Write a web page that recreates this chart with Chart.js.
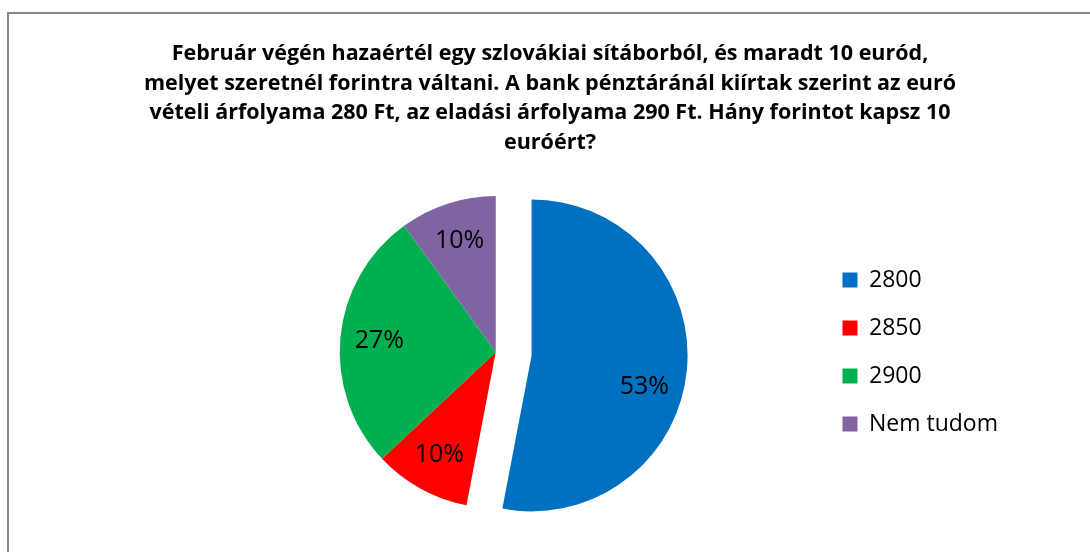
<!DOCTYPE html>
<html lang="hu">
<head>
<meta charset="utf-8">
<title>Hány forintot kapsz 10 euróért?</title>
<script src="https://cdn.jsdelivr.net/npm/chart.js@4.4.1/dist/chart.umd.min.js"></script>
<style>
    html, body {
        margin: 0;
        padding: 0;
        background: #ffffff;
        width: 1090px;
        height: 552px;
        overflow: hidden;
    }
    #frame {
        position: absolute;
        left: 7px;
        top: 12px;
        width: 1200px;
        height: 700px;
        border-left: 2px solid #898989;
        border-top: 2px solid #898989;
        pointer-events: none;
    }
    #chart-title {
        position: absolute;
        left: 0;
        top: 37px;
        width: 1100px;
        text-align: center;
        font-family: "Open Sans", sans-serif;
        font-weight: bold;
        font-size: 21.5px;
        line-height: 29.5px;
        color: #000000;
    }
    #pie {
        position: absolute;
        left: 0;
        top: 0;
    }
</style>
</head>
<body>
<div id="frame"></div>
<canvas id="pie" width="1090" height="552"></canvas>
<div id="chart-title">
    Február végén hazaértél egy szlovákiai sítáborból, és maradt 10 euród,<br>
    melyet szeretnél forintra váltani. A bank pénztáránál kiírtak szerint az euró<br>
    vételi árfolyama 280 Ft, az eladási árfolyama 290 Ft. Hány forintot kapsz 10<br>
    euróért?
</div>
<script>
    'use strict';

    // answers and their share of the votes (%)
    const categories = ['2800', '2850', '2900', 'Nem tudom'];
    const shares = [53, 10, 27, 10];

    const sliceColors = ['#0070C0', '#FF0000', '#00B050', '#8064A2'];
    // the correct answer is pulled out of the pie (px)
    const explodeBy = [36, 0, 0, 0];
    // small angular nudge (degrees) for the percentage labels
    const labelNudge = [10, 0, 0, 0];

    const FONT = '"Open Sans", sans-serif';

    const midAngle = (arc) => {
        const p = arc.getProps(['startAngle', 'endAngle']);
        return (p.startAngle + p.endAngle) / 2;
    };

    // draws every slice itself so a slice can be moved out without growing
    const explodedSlices = {
        id: 'explodedSlices',
        beforeDatasetDraw(chart, args) {
            const ctx = chart.ctx;
            args.meta.data.forEach((arc, i) => {
                const mid = midAngle(arc);
                const d = explodeBy[i] || 0;
                ctx.save();
                ctx.translate(Math.cos(mid) * d, Math.sin(mid) * d);
                arc.draw(ctx, chart.chartArea);
                ctx.restore();
            });
            return false;
        }
    };

    // writes "NN%" inside every slice
    const percentLabels = {
        id: 'percentLabels',
        afterDatasetsDraw(chart) {
            const ctx = chart.ctx;
            const meta = chart.getDatasetMeta(0);
            const values = chart.data.datasets[0].data;

            ctx.save();
            ctx.font = '25px ' + FONT;
            ctx.fillStyle = '#000000';
            ctx.textAlign = 'center';
            ctx.textBaseline = 'middle';

            meta.data.forEach((arc, i) => {
                const p = arc.getProps(['x', 'y', 'outerRadius']);
                const mid = midAngle(arc);
                const d = explodeBy[i] || 0;
                const cx = p.x + Math.cos(mid) * d;
                const cy = p.y + Math.sin(mid) * d;
                const a = mid + labelNudge[i] * Math.PI / 180;
                const r = p.outerRadius * 0.75;
                ctx.fillText(values[i] + '%', cx + Math.cos(a) * r, cy + Math.sin(a) * r);
            });
            ctx.restore();
        }
    };

    new Chart(document.getElementById('pie'), {
        type: 'pie',
        data: {
            labels: categories,
            datasets: [{
                data: shares,
                backgroundColor: sliceColors,
                borderWidth: 0,
                hoverOffset: 0
            }]
        },
        options: {
            responsive: false,
            animation: false,
            events: [],
            radius: 156,
            layout: {
                padding: { left: 174, top: 170, right: 82, bottom: 18 }
            },
            plugins: {
                title: { display: false },
                tooltip: { enabled: false },
                legend: {
                    display: true,
                    position: 'right',
                    align: 'center',
                    labels: {
                        boxWidth: 15,
                        boxHeight: 15,
                        padding: 25,
                        color: '#000000',
                        font: { family: FONT, size: 23 }
                    }
                }
            }
        },
        plugins: [explodedSlices, percentLabels]
    });
</script>
</body>
</html>
